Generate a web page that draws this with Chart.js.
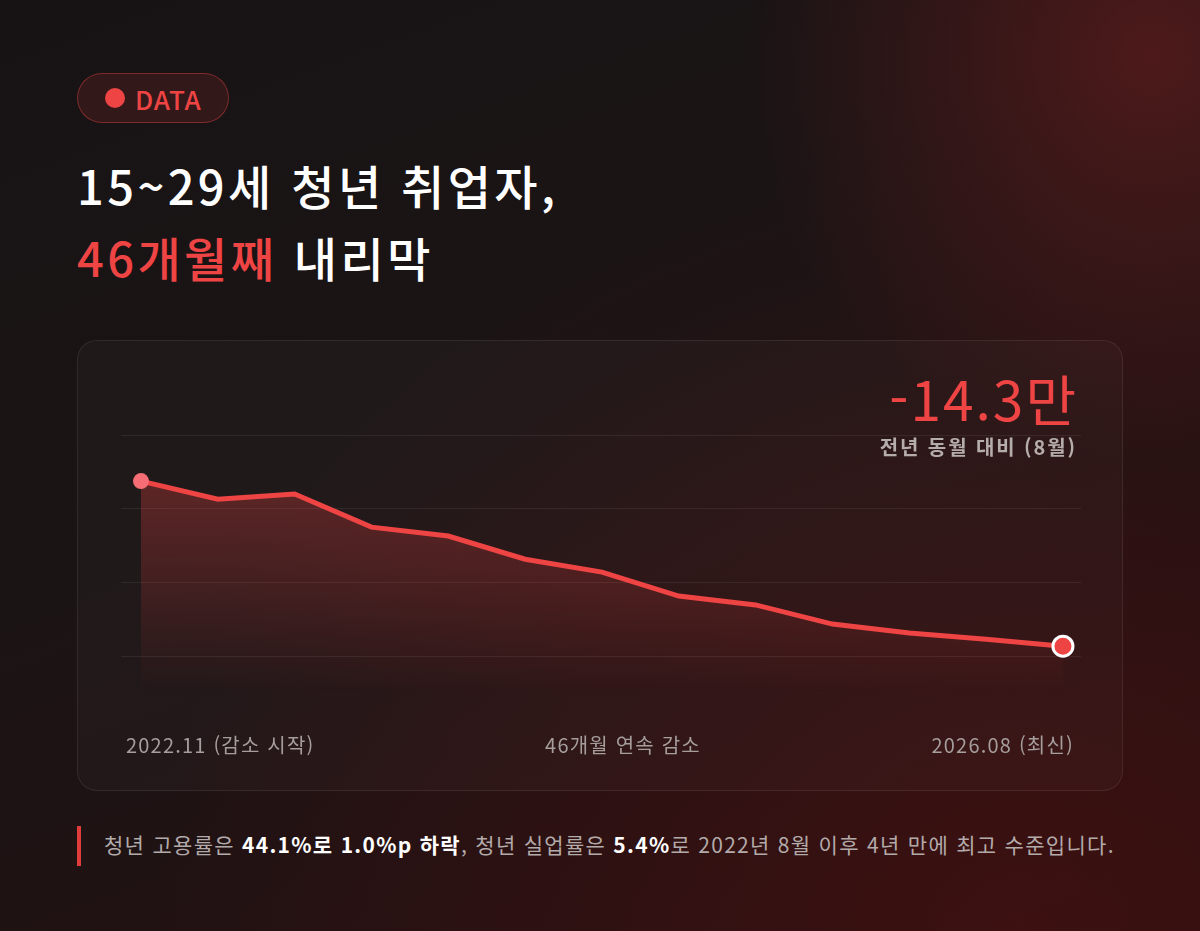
<!DOCTYPE html>
<html lang="ko">
<head>
<meta charset="utf-8">
<script src="https://cdn.jsdelivr.net/npm/chart.js@4.4.1/dist/chart.umd.min.js"></script>
<style>
  html, body { margin: 0; padding: 0; }
  body {
    width: 1200px; height: 931px; overflow: hidden; position: relative;
    font-family: "Noto Sans CJK KR", "Noto Sans", sans-serif;
    background:
      radial-gradient(circle at 96% 6%, rgba(120, 30, 30, 0.55), rgba(120, 30, 30, 0) 28%),
      radial-gradient(ellipse at 85% 100%, rgba(80, 16, 16, 0.55), rgba(80, 16, 16, 0) 60%),
      linear-gradient(160deg, #171314 0%, #1b1415 45%, #261011 100%);
  }
  .badge {
    position: absolute; left: 77px; top: 73px; width: 152px; height: 50px;
    box-sizing: border-box; border-radius: 25px;
    border: 1px solid rgba(239, 68, 68, 0.42);
    background: rgba(239, 68, 68, 0.12);
    display: flex; align-items: center; padding-left: 27px;
  }
  .badge .dot { width: 20px; height: 20px; border-radius: 50%; background: #ef4444; margin-right: 10px; }
  .badge span { color: #ef4444; font-size: 26px; font-weight: 500; letter-spacing: 0.8px; }
  .title {
    position: absolute; left: 77px; top: 149px; margin: 0;
    font-size: 47px; line-height: 72px; font-weight: 500; color: #fff; letter-spacing: 3.4px;
  }
  .title em { font-style: normal; color: #ef4444; }
  .card {
    position: absolute; left: 77px; top: 340px; width: 1046px; height: 451px;
    box-sizing: border-box; border-radius: 20px;
    border: 1px solid rgba(255, 255, 255, 0.08);
    background: rgba(255, 255, 255, 0.025);
  }
  .card canvas { position: absolute; left: 0; top: 0; }
  .big {
    position: absolute; right: 44px; top: 24px; color: #ef4444;
    font-size: 55px; font-weight: 400; line-height: 64px; letter-spacing: 2px;
  }
  .sub {
    position: absolute; right: 45px; top: 91px; color: #b5acac;
    font-size: 20px; font-weight: 700; letter-spacing: 1.9px;
  }
  .axis {
    position: absolute; left: 48px; right: 48px; top: 389px;
    display: flex; justify-content: space-between;
    color: #a69d9d; font-size: 20px; letter-spacing: 1.2px;
  }
  .note-bar { position: absolute; left: 77px; top: 826px; width: 4px; height: 40px; background: #e03c3c; }
  .note {
    position: absolute; left: 104px; top: 829px; color: #b3aaaa; font-size: 21px;
    letter-spacing: 1.3px; white-space: nowrap;
  }
  .note b { color: #fff; font-weight: 700; }
</style>
</head>
<body>
<div class="badge"><div class="dot"></div><span>DATA</span></div>
<h1 class="title">15~29세 청년 취업자,<br><em>46개월째</em> 내리막</h1>

<div class="card">
  <canvas id="trend-chart" width="1046" height="451"></canvas>
  <div class="big">-14.3만</div>
  <div class="sub">전년 동월 대비 (8월)</div>
  <div class="axis" id="axis-labels"></div>
</div>

<div class="note-bar"></div>
<div class="note">청년 고용률은 <b>44.1%로 1.0%p 하락</b>, 청년 실업률은 <b>5.4%</b>로 2022년 8월 이후 4년 만에 최고 수준입니다.</div>

<script>
// trend line (relative level)
const trend = [6.75, 6.26, 6.4, 5.5, 5.26, 4.63, 4.28, 3.63, 3.39, 2.87, 2.63, 2.46, 2.27];
const axisLabels = ['2022.11 (감소 시작)', '46개월 연속 감소', '2026.08 (최신)'];
const gridValues = [2, 4, 6, 8];

const axisBox = document.querySelector('#axis-labels');
axisLabels.forEach(text => {
  const el = document.createElement('span');
  el.textContent = text;
  axisBox.appendChild(el);
});

const lastIndex = trend.length - 1;
const points = trend.map((value, index) => ({ x: index, y: value }));

// first point pink, last point ringed in white
const radius = trend.map((v, i) => i === 0 ? 8 : i === lastIndex ? 10 : 0);
const pointFill = trend.map((v, i) => i === 0 ? '#f56e76' : '#ef4444');
const pointRing = trend.map((v, i) => i === lastIndex ? '#ffffff' : 'rgba(0,0,0,0)');
const ringWidth = trend.map((v, i) => i === lastIndex ? 3 : 0);

new Chart(document.querySelector('#trend-chart'), {
  type: 'line',
  data: {
    datasets: [{
      data: points,
      borderColor: '#ef4444',
      borderWidth: 5,
      tension: 0,
      fill: 'start',
      backgroundColor: ctx => {
        const area = ctx.chart.chartArea;
        if (!area) return 'rgba(239,68,68,0.2)';
        const g = ctx.chart.ctx.createLinearGradient(0, area.top, 0, area.bottom);
        g.addColorStop(0, 'rgba(239, 68, 68, 0.36)');
        g.addColorStop(0.6, 'rgba(239, 68, 68, 0.16)');
        g.addColorStop(1, 'rgba(239, 68, 68, 0)');
        return g;
      },
      pointRadius: radius,
      pointHoverRadius: radius,
      pointBackgroundColor: pointFill,
      pointBorderColor: pointRing,
      pointBorderWidth: ringWidth,
      clip: false
    }]
  },
  options: {
    responsive: false,
    animation: false,
    devicePixelRatio: 1,
    layout: { padding: { left: 43, right: 43, top: 94, bottom: 99 } },
    scales: {
      x: { type: 'linear', min: -0.26, max: 12.235, display: false },
      y: {
        min: 1,
        max: 8,
        border: { display: false },
        ticks: { display: false },
        grid: { color: 'rgba(255, 255, 255, 0.07)', drawTicks: false, lineWidth: 1 },
        afterBuildTicks: axis => { axis.ticks = gridValues.map(v => ({ value: v })); }
      }
    },
    plugins: {
      legend: { display: false },
      tooltip: { enabled: false }
    }
  }
});
</script>
</body>
</html>
